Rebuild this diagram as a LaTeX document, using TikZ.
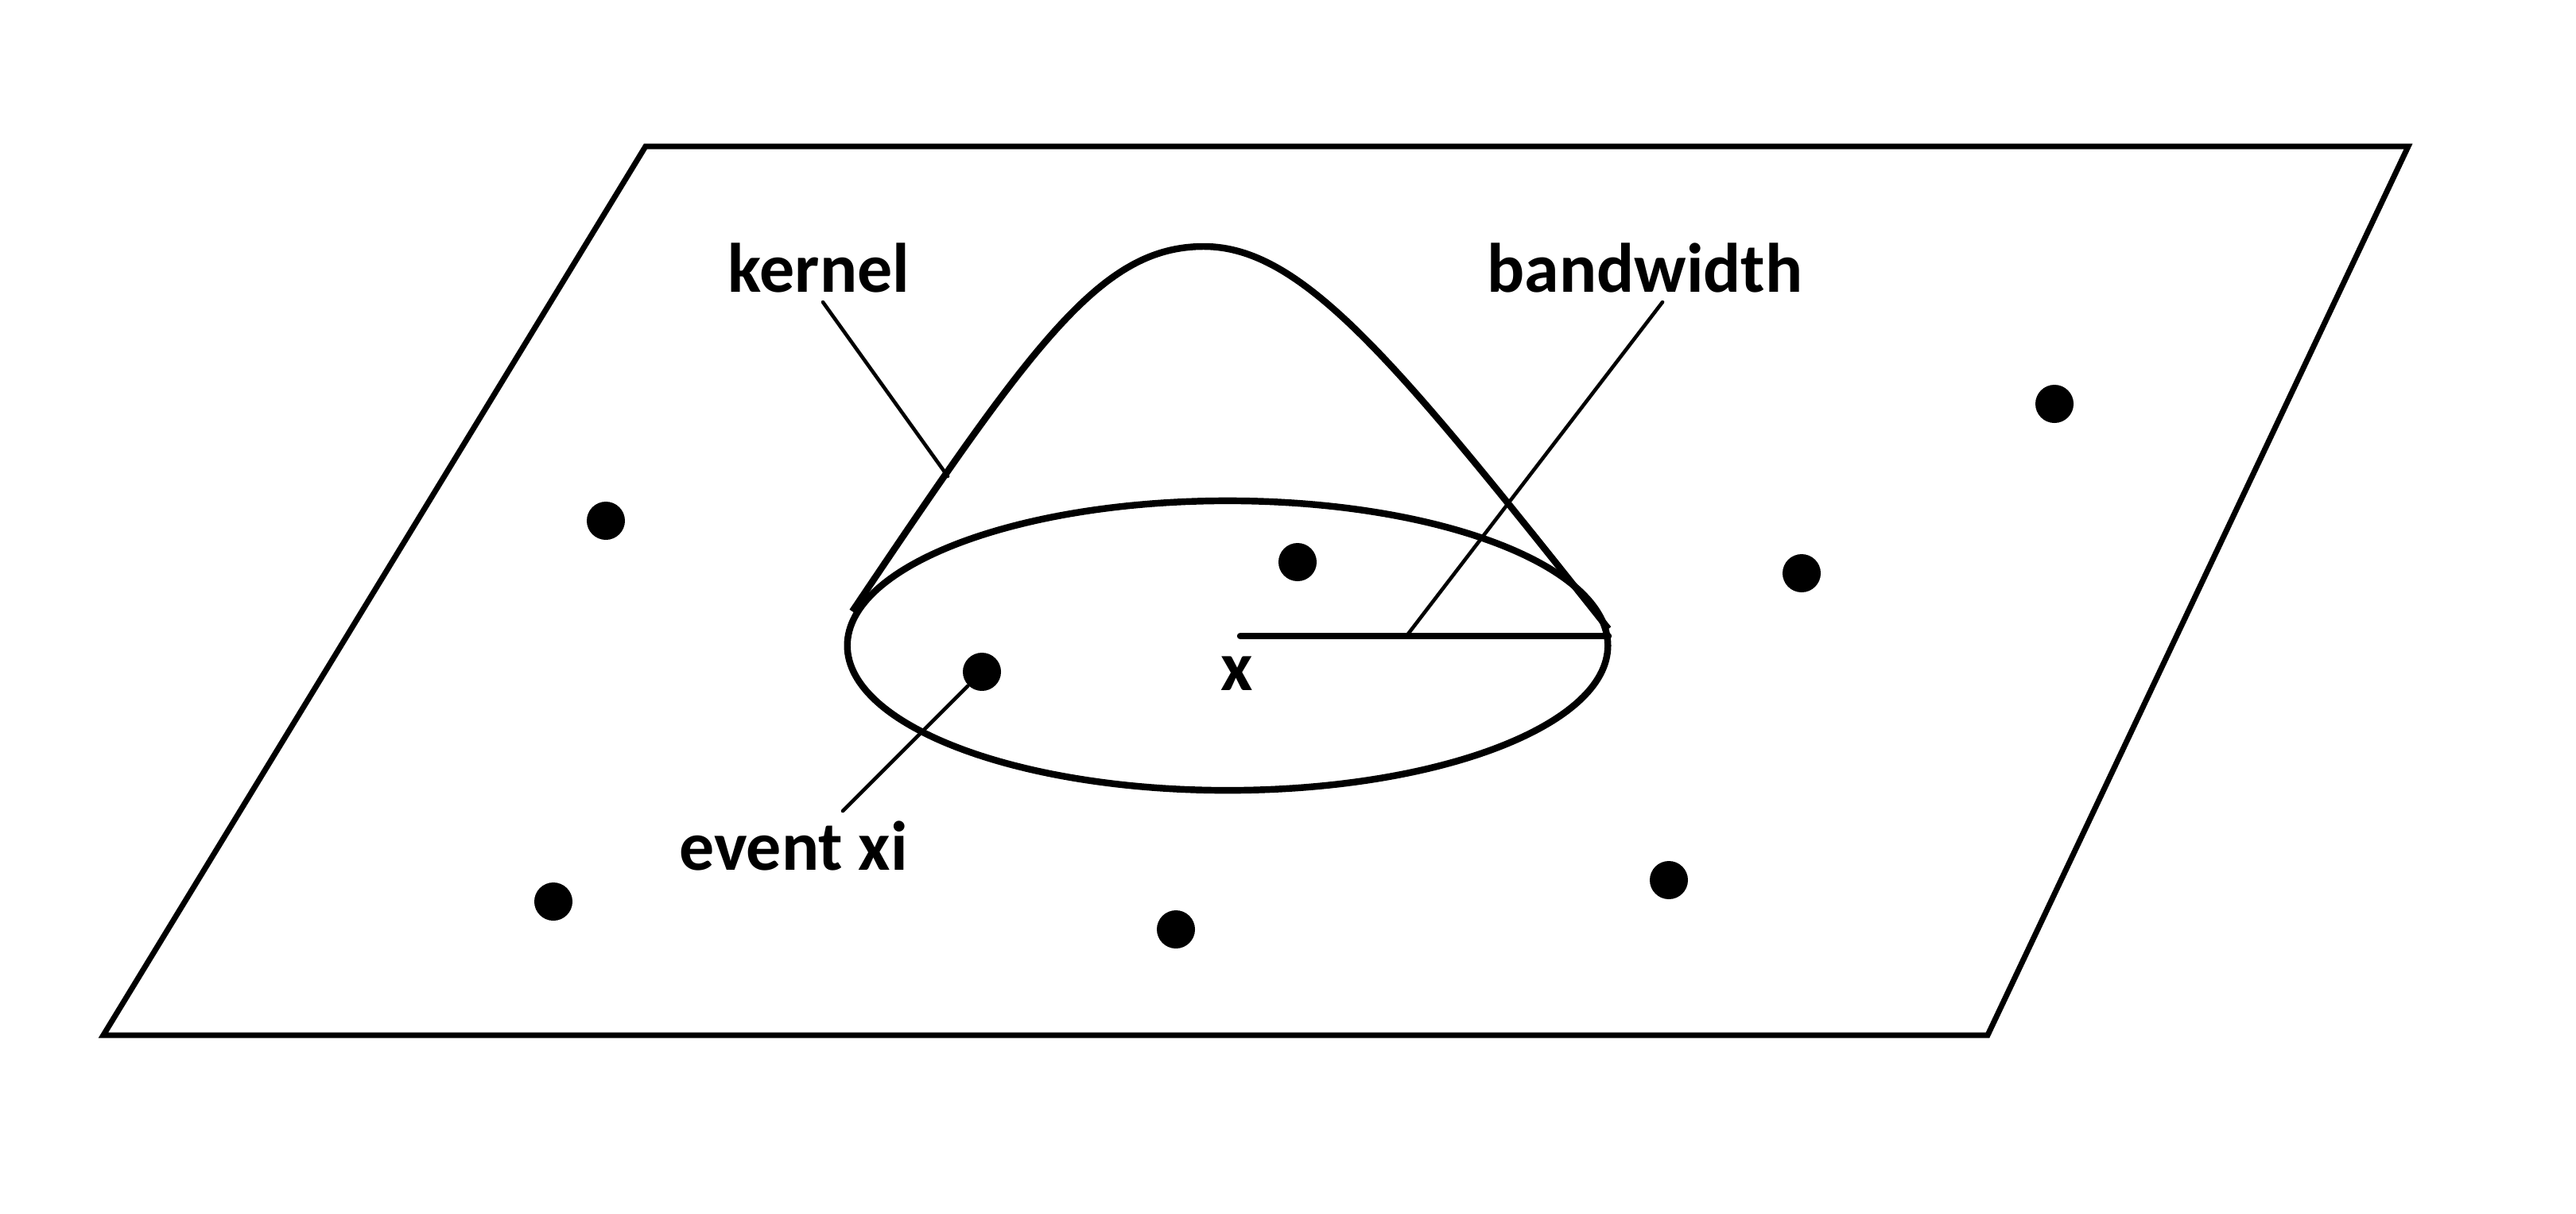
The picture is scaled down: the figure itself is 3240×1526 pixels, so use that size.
\documentclass[tikz,border=0pt]{standalone}
\usepackage{fontspec}
\setmainfont{Carlito}
\begin{document}
\begin{tikzpicture}[x=0.01cm,y=-0.01cm,
  plane/.style={line width=2pt,line join=miter},
  curve/.style={line width=2.4pt},
  leader/.style={line width=1.3pt,line cap=round},
  dot/.style={circle,fill=black,inner sep=0pt,minimum size=0.48cm},
  lbl/.style={font=\fontsize{25}{30}\selectfont\bfseries,inner sep=0pt}]
\useasboundingbox (0,0) rectangle (3240,1526);
% plane
\draw[plane] (812,184) -- (3029,184) -- (2500,1302) -- (130,1302) -- cycle;
% ellipse (base of kernel)
\coordinate (c) at (1544,812);
\draw[curve] (c) ellipse [x radius=4.78cm, y radius=1.82cm];
% kernel bell
\coordinate (kl) at (1072,769);
\coordinate (kp) at (1514,310);
\coordinate (kr) at (2023,791);
\draw[curve] (kl) .. controls (1300,430) and (1385,310) .. (kp)
  .. controls (1640,310) and (1760,460) .. (kr);
% bandwidth radius
\coordinate (xc) at (1560,800);
\coordinate (br) at (2023,800);
\draw[curve,line cap=round] (xc) -- (br);
% events
\node[dot] (d1) at (762,655) {};
\node[dot] (d2) at (1632,707) {};
\node[dot] (d3) at (1235,845) {};
\node[dot] (d4) at (2266,721) {};
\node[dot] (d5) at (2584,508) {};
\node[dot] (d6) at (696,1134) {};
\node[dot] (d7) at (1479,1169) {};
\node[dot] (d8) at (2099,1107) {};
% labels
\node[lbl] (kernel) at (1030,337) {kernel};
\node[lbl] (bw) at (2069,337) {bandwidth};
\node[lbl] (ev) at (998,1064) {event xi};
\node[lbl] (xl) at (1556,847) {x};
% leaders
\coordinate (kt) at (1035,380);
\coordinate (kb) at (1192,599);
\coordinate (bt) at (2091,380);
\coordinate (bb) at (1769,800);
\coordinate (eb) at (1060,1020);
\draw[leader] (kt) -- (kb);
\draw[leader] (bt) -- (bb);
\draw[leader] (d3) -- (eb);
\end{tikzpicture}
\end{document}
